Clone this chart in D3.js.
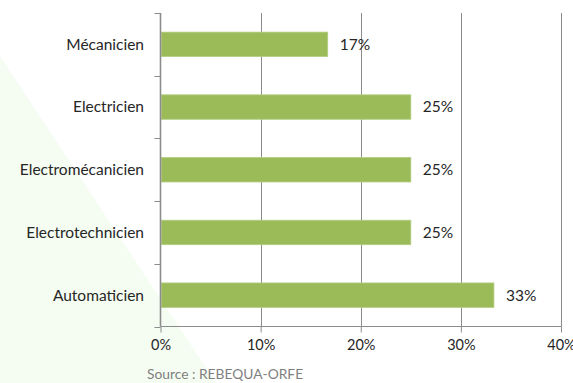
<!DOCTYPE html>
<html>
<head>
<meta charset="utf-8">
<script src="https://cdn.jsdelivr.net/npm/d3@7"></script>
<style>
  html, body { margin: 0; padding: 0; background: #ffffff; }
  svg { display: block; }
  text { font-family: Lato, "Open Sans", sans-serif; }
</style>
</head>
<body>
<script>
const categories = ["Mécanicien", "Electricien", "Electromécanicien", "Electrotechnicien", "Automaticien"];
const values = [16.7, 25, 25, 25, 33.3];
const xTicks = [0, 10, 20, 30, 40];
const sourceText = "Source : REBEQUA-ORFE";

const W = 573, H = 383;
const margin = { left: 160.5, right: 12, top: 13, bottom: 56 };

const svg = d3.select("body").append("svg").attr("width", W).attr("height", H);

// faint green background triangle
svg.append("path")
  .attr("d", d3.line()([[0, 56], [216, 383], [0, 383]]) + "Z")
  .attr("fill", "#f5fdf2");

const x = d3.scaleLinear().domain([0, 40]).range([margin.left, 561]);
const y = d3.scaleBand().domain(categories).range([margin.top, 326.5]).paddingInner(0.61).paddingOuter(0.305);

const gridColor = "#8c8c8c";

// vertical gridlines
svg.append("g").selectAll("line").data(xTicks.slice(1)).join("line")
  .attr("x1", d => Math.round(x(d)) + 0.5).attr("x2", d => Math.round(x(d)) + 0.5)
  .attr("y1", margin.top).attr("y2", 326.5)
  .attr("stroke", gridColor).attr("stroke-width", 1);

// bars
svg.append("g").selectAll("rect").data(categories).join("rect")
  .attr("x", x(0) + 1)
  .attr("y", d => y(d))
  .attr("width", (d, i) => x(values[i]) - x(0) - 1)
  .attr("height", y.bandwidth())
  .attr("fill", "#9bbb59")
  .attr("stroke", "#b3cd82").attr("stroke-width", 0.8);

// bottom axis
const xAxis = d3.axisBottom(x).tickValues(xTicks).tickFormat(d => d + "%").tickSize(6).tickPadding(6);
const gx = svg.append("g").attr("transform", "translate(0,326.5)").call(xAxis);
gx.select(".domain").attr("stroke", gridColor).attr("d", `M${x(0)},0H${x(40)}`);
gx.selectAll(".tick line").attr("stroke", gridColor);
gx.selectAll(".tick text").attr("fill", "#262626").attr("font-size", 14.5)
  .attr("font-family", "Lato, sans-serif").attr("dy", "0.8em");

// left axis: line plus category-boundary ticks
const boundaries = categories.map(c => y(c) - y.step() * y.paddingInner() / 2);
boundaries.push(326.5);
svg.append("line").attr("x1", margin.left).attr("x2", margin.left)
  .attr("y1", margin.top).attr("y2", 326.5)
  .attr("stroke", gridColor).attr("stroke-width", 1.6);
svg.append("g").selectAll("line").data(boundaries).join("line")
  .attr("x1", margin.left - 6).attr("x2", margin.left)
  .attr("y1", d => Math.round(d) + 0.5).attr("y2", d => Math.round(d) + 0.5)
  .attr("stroke", gridColor);

// category labels
svg.append("g").selectAll("text").data(categories).join("text")
  .attr("x", 144)
  .attr("y", d => y(d) + y.bandwidth() / 2)
  .attr("dy", "0.35em")
  .attr("text-anchor", "end")
  .attr("font-size", 15.5)
  .attr("fill", "#262626")
  .text(d => d);

// value labels
svg.append("g").selectAll("text").data(categories).join("text")
  .attr("x", (d, i) => x(values[i]) + 12)
  .attr("y", d => y(d) + y.bandwidth() / 2)
  .attr("dy", "0.35em")
  .attr("font-size", 15.5)
  .attr("fill", "#262626")
  .text((d, i) => Math.round(values[i]) + "%");

// source
svg.append("text")
  .attr("x", 147).attr("y", 379)
  .attr("font-size", 13.8)
  .attr("fill", "#7f7f7f")
  .text(sourceText);
</script>
</body>
</html>
